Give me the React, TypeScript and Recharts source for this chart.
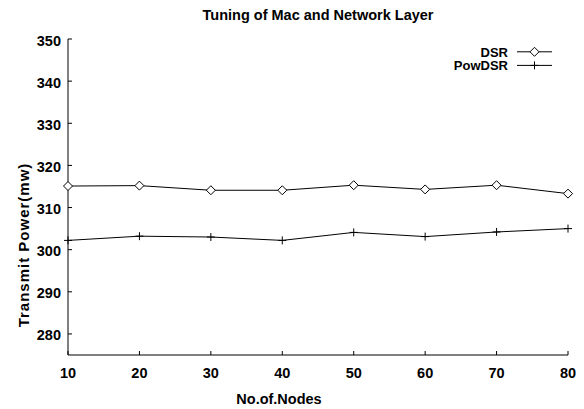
import React from 'react';
import { LineChart, Line, XAxis, YAxis, Legend } from 'recharts';

const nodes = [10, 20, 30, 40, 50, 60, 70, 80];
const dsrValues = [315.1, 315.2, 314.1, 314.1, 315.3, 314.3, 315.3, 313.3];
const powDsrValues = [302.2, 303.2, 303.0, 302.2, 304.1, 303.1, 304.2, 305.0];
const yTicks = [280, 290, 300, 310, 320, 330, 340, 350];
const xTicks = [10, 20, 30, 40, 50, 60, 70, 80];
const seriesNames = ['DSR', 'PowDSR'];
const title = 'Tuning of Mac and Network Layer';
const xLabel = 'No.of.Nodes';
const yLabel = 'Transmit Power(mw)';

const data = nodes.map((n, i) => ({ nodes: n, DSR: dsrValues[i], PowDSR: powDsrValues[i] }));

const FONT = '"Liberation Sans", Arial, Helvetica, sans-serif';
const TL = 4;

const Diamond = (props: any) => {
  const { cx, cy } = props;
  if (cx == null || cy == null) return null;
  const r = 4.5;
  return (
    <polygon
      points={`${cx},${cy - r} ${cx + r},${cy} ${cx},${cy + r} ${cx - r},${cy}`}
      fill="#fff"
      stroke="#000"
      strokeWidth={1}
    />
  );
};

const Plus = (props: any) => {
  const { cx, cy } = props;
  if (cx == null || cy == null) return null;
  const r = 4;
  return (
    <g stroke="#000" strokeWidth={1}>
      <line x1={cx - r} y1={cy} x2={cx + r} y2={cy} />
      <line x1={cx} y1={cy - r} x2={cx} y2={cy + r} />
    </g>
  );
};

const LeftTick = (props: any) => {
  const { x, y, payload } = props;
  return (
    <g>
      <text x={x} y={y + 6.5} textAnchor="end" fontFamily={FONT} fontWeight="bold" fontSize={14.5} fill="#000">
        {payload.value}
      </text>
      <line x1={x + 7} x2={x + 7 + TL} y1={y} y2={y} stroke="#000" />
    </g>
  );
};

const RightTick = (props: any) => {
  const { x, y } = props;
  return <line x1={x - TL} x2={x} y1={y} y2={y} stroke="#000" />;
};

const BottomTick = (props: any) => {
  const { x, y, payload } = props;
  return (
    <g>
      <text x={x} y={y + 23} textAnchor="middle" fontFamily={FONT} fontWeight="bold" fontSize={14.5} fill="#000">
        {payload.value}
      </text>
      <line x1={x} x2={x} y1={y} y2={y - TL} stroke="#000" />
    </g>
  );
};

const TopTick = (props: any) => {
  const { x, y } = props;
  return <line x1={x} x2={x} y1={y} y2={y + TL} stroke="#000" />;
};

const LegendContent = (props: any) => {
  const { payload } = props;
  const items = (payload || []).filter((p: any) => seriesNames.includes(p.value));
  return (
    <svg width={584} height={80} style={{ display: 'block' }}>
      {items.map((p: any, i: number) => {
        const cy = 51.8 + i * 13.6;
        const mx = 534.5;
        return (
          <g key={p.value}>
            <text x={508} y={cy + 4.7} textAnchor="end" fontFamily={FONT} fontWeight="bold" fontSize={13} fill="#000">
              {p.value}
            </text>
            <line x1={517} x2={552} y1={cy} y2={cy} stroke="#000" />
            {p.value === 'DSR' ? <Diamond cx={mx} cy={cy} /> : <Plus cx={mx} cy={cy} />}
          </g>
        );
      })}
    </svg>
  );
};

const YLabel = (props: any) => {
  const { viewBox } = props;
  const cx = (viewBox?.x ?? 0) + 23;
  const cy = (viewBox?.y ?? 0) + (viewBox?.height ?? 0) / 2 + 48;
  return (
    <text
      x={cx}
      y={cy}
      transform={`rotate(-90, ${cx}, ${cy})`}
      textAnchor="middle"
      dominantBaseline="central"
      fontFamily={FONT}
      fontWeight="bold"
      fontSize={15}
      letterSpacing={1}
      fill="#000"
    >
      {yLabel}
    </text>
  );
};

const XLabel = (props: any) => {
  const { viewBox } = props;
  const cx = (viewBox?.x ?? 0) + (viewBox?.width ?? 0) / 2 - 39;
  const y = (viewBox?.y ?? 0) + 49.3;
  return (
    <text x={cx} y={y} textAnchor="middle" fontFamily={FONT} fontWeight="bold" fontSize={14.5} fill="#000">
      {xLabel}
    </text>
  );
};

export default function App() {
  return (
    <div style={{ position: 'absolute', left: 0, top: 0, width: 584, height: 409, background: '#fff' }}>
      <svg width={584} height={40} style={{ position: 'absolute', left: 0, top: 0 }}>
        <text x={318} y={20} textAnchor="middle" fontFamily={FONT} fontWeight="bold" fontSize={14.5} fill="#000">
          {title}
        </text>
      </svg>
      <div style={{ position: 'absolute', left: 0, top: 0 }}>
        <LineChart width={584} height={409} data={data} margin={{ top: 39, right: 16, left: 0, bottom: 0 }}>
          <XAxis
            dataKey="nodes"
            type="number"
            domain={[10, 80]}
            ticks={xTicks}
            height={54}
            tickSize={0}
            tickMargin={0}
            tick={<BottomTick />}
            axisLine={{ stroke: '#000' }}
            tickLine={false}
            interval={0}
            label={<XLabel />}
          />
          <XAxis
            xAxisId="top"
            orientation="top"
            dataKey="nodes"
            type="number"
            domain={[10, 80]}
            ticks={xTicks}
            height={0}
            tickSize={0}
            tickMargin={0}
            tick={<TopTick />}
            axisLine={{ stroke: '#000' }}
            tickLine={false}
            interval={0}
          />
          <YAxis
            type="number"
            domain={[275, 350]}
            ticks={yTicks}
            width={68}
            tickSize={0}
            tickMargin={7}
            tick={<LeftTick />}
            axisLine={{ stroke: '#000' }}
            tickLine={false}
            interval={0}
            label={<YLabel />}
          />
          <YAxis
            yAxisId="right"
            orientation="right"
            type="number"
            domain={[275, 350]}
            ticks={yTicks}
            width={0}
            tickSize={0}
            tickMargin={0}
            tick={<RightTick />}
            axisLine={{ stroke: '#000' }}
            tickLine={false}
            interval={0}
          />
          <Legend
            layout="vertical"
            align="center"
            verticalAlign="middle"
            wrapperStyle={{ left: 0, top: 0, right: 'auto', bottom: 'auto', width: 584, height: 80 }}
            content={<LegendContent />}
          />
          <Line
            dataKey="DSR"
            name="DSR"
            stroke="#000"
            strokeWidth={1}
            dot={<Diamond />}
            activeDot={false}
            isAnimationActive={false}
          />
          <Line
            dataKey="PowDSR"
            name="PowDSR"
            stroke="#000"
            strokeWidth={1}
            dot={<Plus />}
            activeDot={false}
            isAnimationActive={false}
          />
        </LineChart>
      </div>
    </div>
  );
}
